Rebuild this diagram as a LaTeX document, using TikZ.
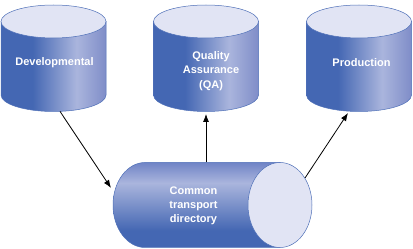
\documentclass[tikz,border=0pt]{standalone}
\usepackage{fontspec}
\setmainfont{Liberation Sans}
\usetikzlibrary{arrows.meta}
\definecolor{cdark}{HTML}{4467B3}
\definecolor{clight}{HTML}{AAB5DD}
\definecolor{cmid}{HTML}{7F8DC8}
\definecolor{cmidh}{HTML}{7084C6}
\definecolor{ctop}{HTML}{E1E4F4}
\definecolor{cline}{HTML}{4F70B8}
\pgfdeclarehorizontalshading{cylv}{100bp}{color(0bp)=(cdark); color(25bp)=(cdark); color(40bp)=(cdark); color(61bp)=(clight); color(75bp)=(cmid); color(100bp)=(cmid)}
\pgfdeclareverticalshading{cylh}{100bp}{color(0bp)=(cdark); color(25bp)=(cdark); color(35bp)=(cdark); color(63bp)=(clight); color(75bp)=(cmidh); color(100bp)=(cmidh)}
\begin{document}
\begin{tikzpicture}[x=1pt,y=1pt,
  body/.style={shading=cylv,draw=cline,line width=0.5pt},
  hbody/.style={shading=cylh,draw=cline,line width=0.5pt},
  endcap/.style={fill=ctop,draw=cline,line width=0.5pt},
  lbl/.style={text=white,font=\bfseries\fontsize{11}{14.2}\selectfont,align=center,inner sep=0pt},
  conn/.style={draw=black,line width=0.8pt,-{Latex[length=8pt,width=6pt]}}]
\useasboundingbox (0,0) rectangle (413,249);
\fill[white] (0,0) rectangle (413,249);
% vertical cylinders
\foreach \cx in {53.5,206,359}{
  \path[body] (\cx-52.5,227.5) -- (\cx-52.5,154) arc[start angle=180,end angle=360,x radius=52.5,y radius=16.5] -- (\cx+52.5,227.5) -- cycle;
  \path[endcap] (\cx,227.5) ellipse[x radius=52.5,y radius=16.5];
}
% horizontal cylinder
\path[hbody] (280,86.5) -- (145,86.5) arc[start angle=90,end angle=270,x radius=32,y radius=42.5] -- (280,1.5) -- cycle;
\path[endcap] (280,44) ellipse[x radius=32,y radius=42.5];
% labels
\node[lbl] (dev) at (54.5,186) {Developmental};
\node[lbl] (qa) at (211,178) {Quality\\Assurance\\(QA)};
\node[lbl] (prod) at (361.5,186) {Production};
\node[lbl] (ctd) at (193.5,43) {Common\\transport\\directory};
% connector anchors
\coordinate (devb) at (60,137.6);
\coordinate (ctdin) at (111,61);
\coordinate (ctdtop) at (206,86.5);
\coordinate (qab) at (206,135);
\coordinate (ctdr) at (305,71);
\coordinate (prodb) at (348,136);
\draw[conn] (devb) -- (ctdin);
\draw[conn] (ctdtop) -- (qab);
\draw[conn] (ctdr) -- (prodb);
\end{tikzpicture}
\end{document}
